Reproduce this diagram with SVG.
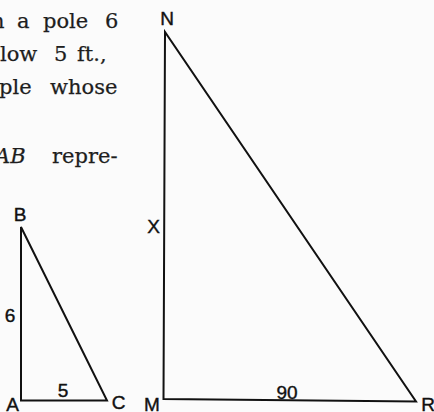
<svg xmlns="http://www.w3.org/2000/svg" width="434" height="412" viewBox="0 0 434 412">
  <style>
    .body { font-family: "DejaVu Serif", "Liberation Serif", serif; font-size: 21px; fill: #1e1e1e; stroke: #1e1e1e; stroke-width: 0.25; }
    .it { font-style: italic; }
    .lbl { font-family: "Liberation Sans", "DejaVu Sans", sans-serif; font-size: 19px; fill: #111; stroke: #111; stroke-width: 0.4; }
    .edge { fill: none; stroke: #111; stroke-width: 2; stroke-linejoin: miter; }
  </style>
  <rect x="0" y="0" width="434" height="412" fill="#fbfbfb"/>
  <g id="paragraph">
    <text class="body" y="28"><tspan x="-9">n</tspan><tspan x="17">a</tspan><tspan x="43">pole</tspan><tspan x="105">6</tspan></text>
    <text class="body" y="61"><tspan x="0">low</tspan><tspan x="54">5</tspan><tspan x="77">ft.,</tspan></text>
    <text class="body" y="94"><tspan x="-1">ple</tspan><tspan x="50">whose</tspan></text>
    <text class="body" y="163"><tspan class="it" x="-5">AB</tspan><tspan x="52">repre-</tspan></text>
  </g>
  <g id="triangle-ABC">
    <polygon class="edge" points="21,227 21,400.5 107,400.5"/>
    <text class="lbl" x="20" y="221" text-anchor="middle">B</text>
    <text class="lbl" x="10" y="322" text-anchor="middle">6</text>
    <text class="lbl" x="63" y="397" text-anchor="middle">5</text>
    <text class="lbl" x="12.5" y="411" text-anchor="middle">A</text>
    <text class="lbl" x="118.5" y="409" text-anchor="middle">C</text>
  </g>
  <g id="triangle-MNR">
    <polygon class="edge" points="165,32 163.5,399 416,401.5"/>
    <text class="lbl" x="167" y="25" text-anchor="middle">N</text>
    <text class="lbl" x="153.5" y="233" text-anchor="middle">X</text>
    <text class="lbl" x="287" y="399" text-anchor="middle">90</text>
    <text class="lbl" x="152" y="411" text-anchor="middle">M</text>
    <text class="lbl" x="428" y="411" text-anchor="middle">R</text>
  </g>
</svg>
